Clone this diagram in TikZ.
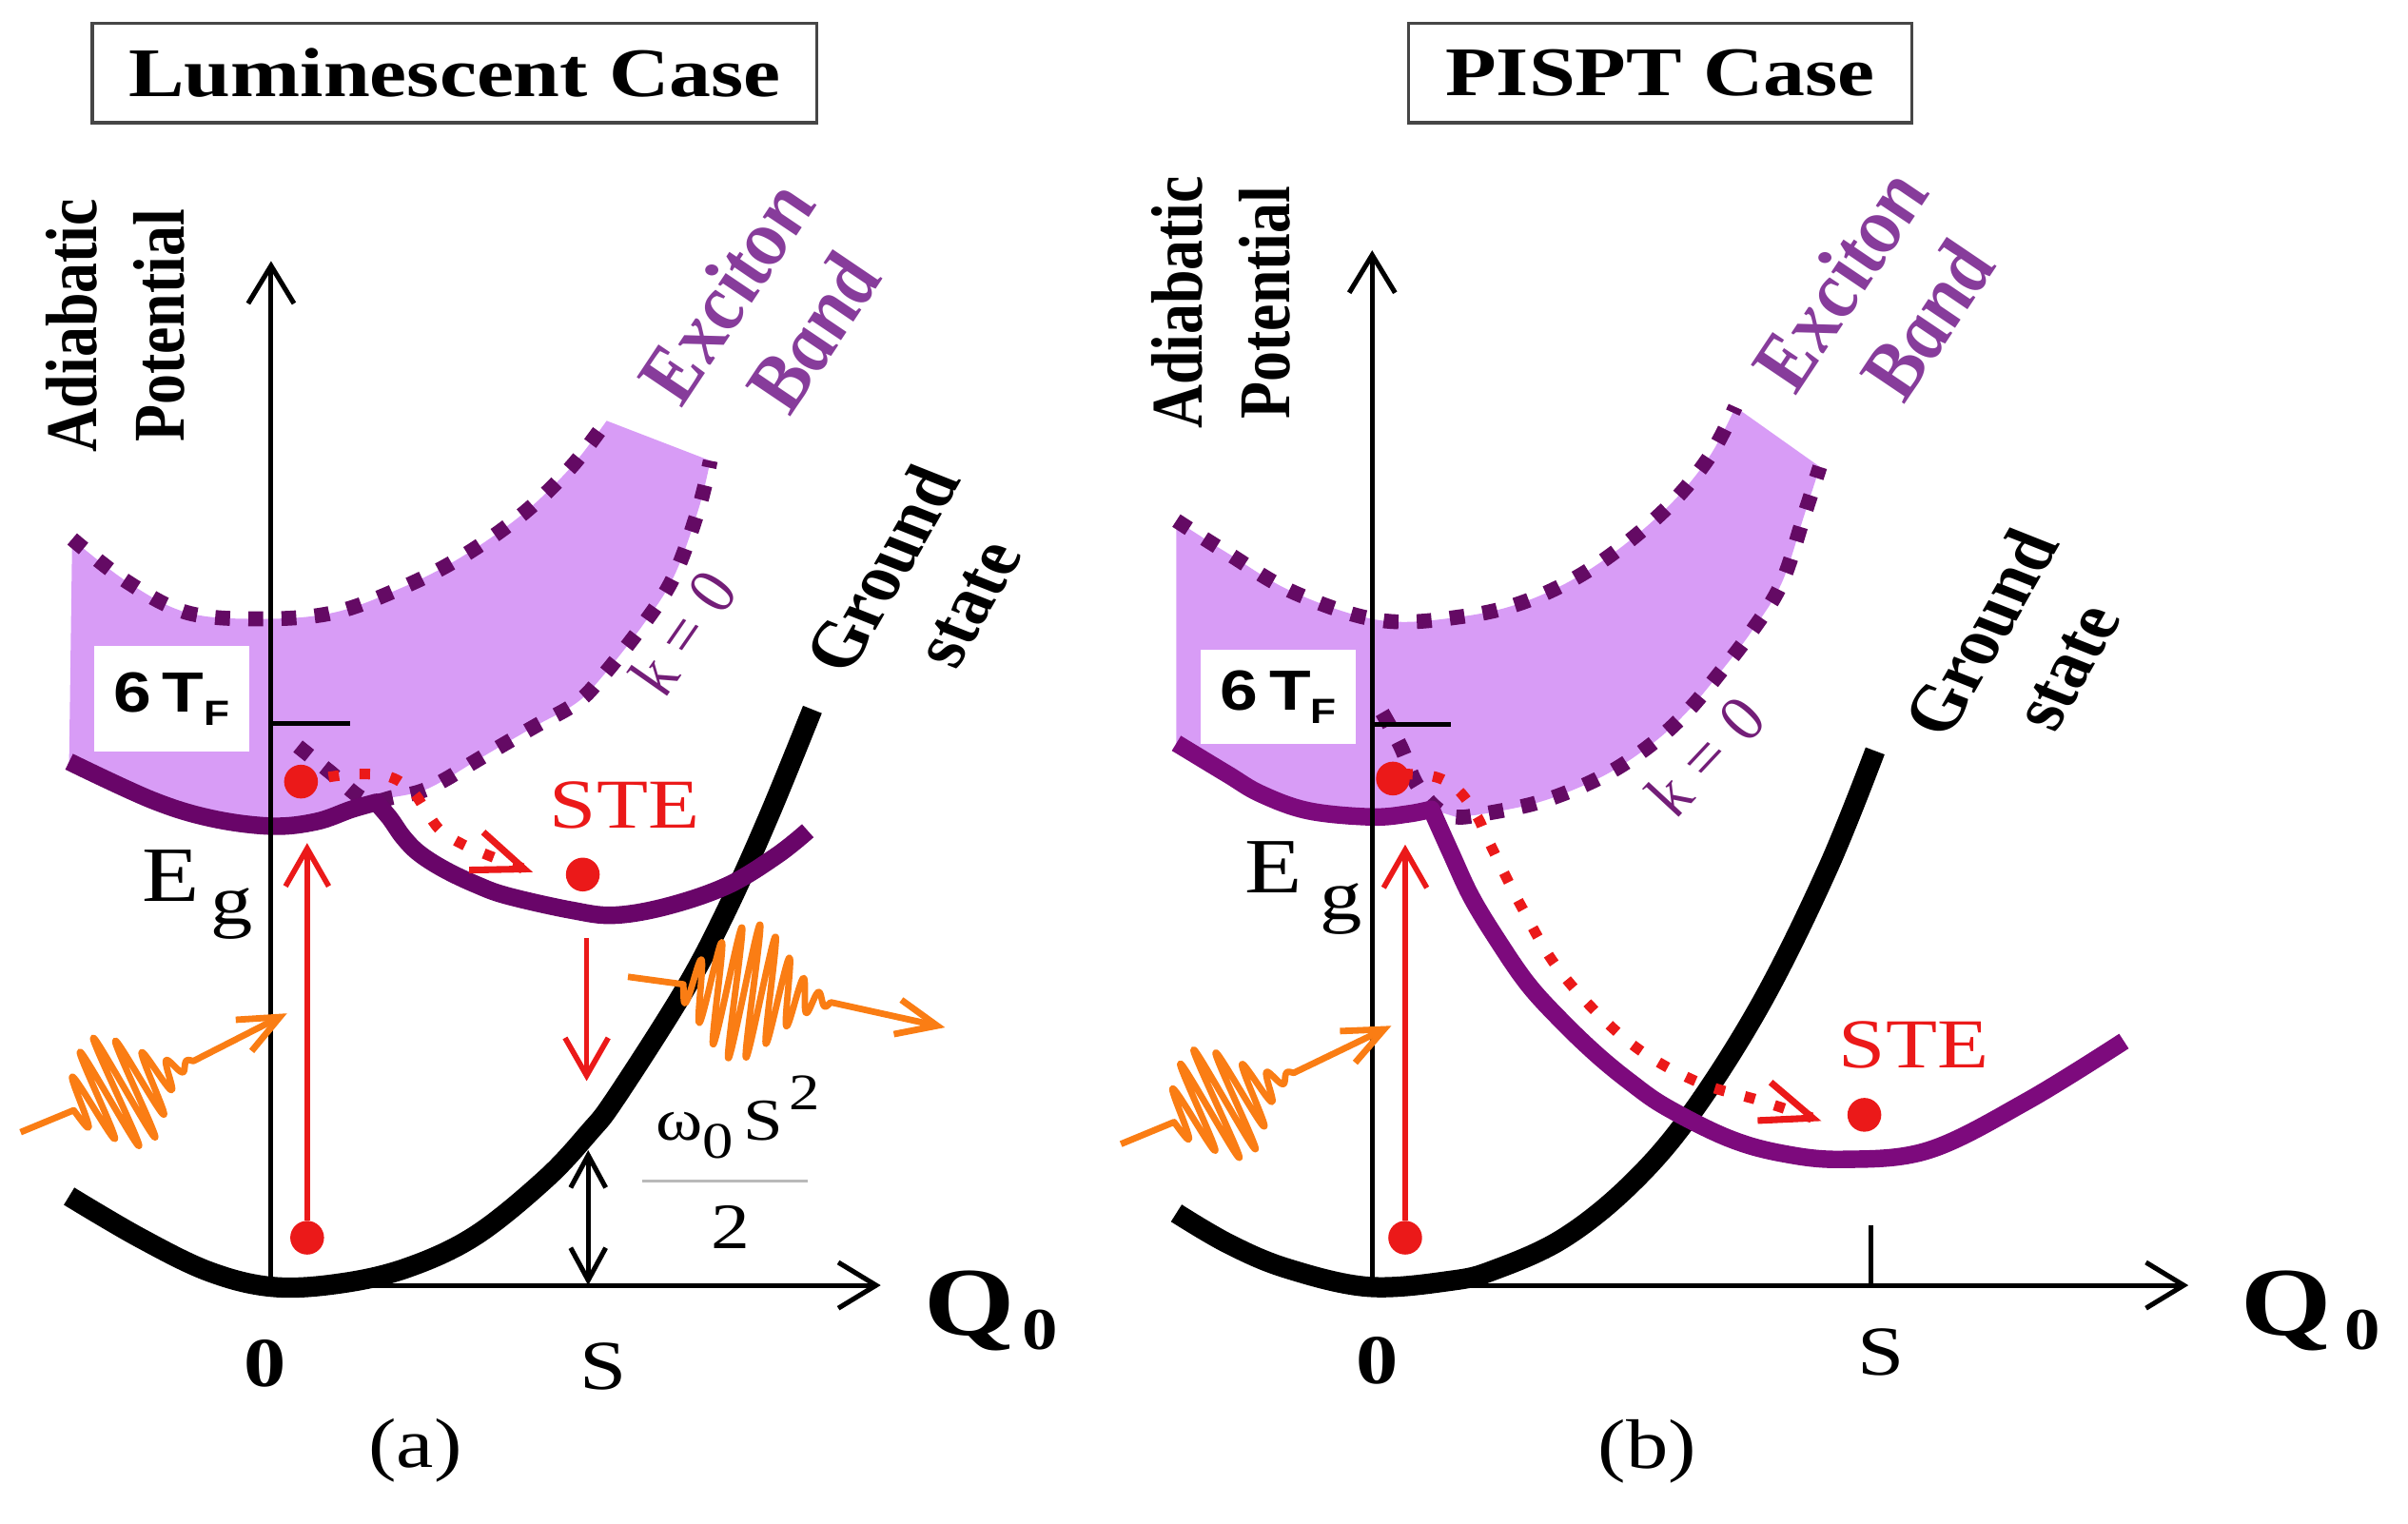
\documentclass[tikz,border=0pt]{standalone}
\usepackage{fontspec}
\setmainfont{Liberation Serif}
\newfontfamily\sfbold{Liberation Sans}
\usetikzlibrary{arrows.meta}
\definecolor{lilac}{RGB}{216,156,246}
\definecolor{purpA}{RGB}{105,5,105}
\definecolor{purpB}{RGB}{125,10,125}
\definecolor{purpdot}{RGB}{100,10,100}
\definecolor{exc}{RGB}{135,60,155}
\definecolor{kcol}{RGB}{115,30,120}
\definecolor{redc}{RGB}{235,25,25}
\definecolor{orng}{RGB}{250,125,20}
\definecolor{boxgray}{RGB}{70,70,70}
\newcommand{\fsz}[2]{\fontsize{#1}{#2}\selectfont}
\begin{document}
\begin{tikzpicture}[x=0.02cm,y=-0.02cm,
  st/.style={xscale=1.2,inner sep=0pt},
  pdots/.style={draw=purpdot,line width=5.5pt,dash pattern=on 5.5pt off 6.8pt},
  psolidA/.style={draw=purpA,line width=6.5pt,line join=round},
  psolidB/.style={draw=purpB,line width=6.5pt,line join=round},
  gnd/.style={draw=black,line width=7.5pt},
  axisline/.style={draw=black,line width=1.8pt,-{Straight Barb[length=14pt,width=17pt]}},
  dblarrow/.style={draw=black,line width=1.8pt,{Straight Barb[length=12pt,width=13pt]}-{Straight Barb[length=12pt,width=13pt]}},
  redarr/.style={draw=redc,line width=2pt,-{Straight Barb[length=14pt,width=16pt]}},
  reddots/.style={draw=redc,line width=3.9pt,dash pattern=on 3.9pt off 7.6pt,-{Straight Barb[length=19pt,width=15pt,line width=2.5pt]}},
  reddot/.style={circle,fill=redc,inner sep=0pt,minimum size=0.44cm},
  photon/.style={draw=orng,line width=2.4pt,line join=round,-{Straight Barb[length=15pt,width=13pt]}},
  tickline/.style={draw=black,line width=1.8pt},
  whitebox/.style={fill=white,st,minimum width=1.68cm},
  titlebox/.style={draw=boxgray,line width=1.2pt,st,minimum height=1.3cm},
]
\useasboundingbox (0,0) rectangle (1568,992);

% ---------------- fills ----------------
\fill[lilac] plot[smooth,tension=0.6] coordinates {(47,351) (83,379) (122,399) (170,403) (217,399) (261,383) (300,363) (340,335) (372,304) (395,274)}
  -- (462.5,300)
  -- plot[smooth,tension=0.6] coordinates {(462.5,300) (455,331) (439,375) (419,406.5) (391,442) (375,458) (350,472) (331,483) (309,496) (291,507) (275,515) (257,519) (240,521)}
  -- plot[smooth,tension=0.6] coordinates {(245,522.5) (229,527) (206,535) (177,538) (138,533) (99,521) (45,496)} -- cycle;
\fill[lilac] plot[smooth,tension=0.6] coordinates {(766,339) (799,360) (843,386) (899,404) (952,401.5) (995,391) (1038,369) (1082,334) (1112,299) (1130,265)}
  -- (1185,304)
  -- plot[smooth,tension=0.6] coordinates {(1185,304) (1175,335) (1160,380) (1140,412) (1120,438) (1100,462) (1080,481) (1055,499) (1030,512) (1000,523) (966,530) (948,532)}
  -- plot[smooth,tension=0.6] coordinates {(932,527) (917,530) (893,532) (852,528) (821,517) (799,504) (766,484)} -- cycle;

% 6 T_F boxes
\node[whitebox,minimum height=1.38cm,font=\sfbold\bfseries\fsz{21}{24}] (tfA) at (111.7,455) {6\,T\raisebox{-5pt}{\fsz{13}{13}F}};
\node[whitebox,minimum height=1.22cm,font=\sfbold\bfseries\fsz{21}{24}] (tfB) at (832.5,453.8) {6\,T\raisebox{-5pt}{\fsz{13}{13}F}};

% ---------------- dotted band edges ----------------
\draw[pdots] plot[smooth,tension=0.6] coordinates {(47,351) (83,379) (122,399) (170,403) (217,399) (261,383) (300,363) (340,335) (372,304) (395,274)};
\draw[pdots] plot[smooth,tension=0.6] coordinates {(194,486) (214,502) (238,521) (257,519) (275,515) (291,507) (309,496) (331,483) (350,472) (375,458) (391,442) (419,406.5) (439,375) (455,331) (462.5,300)};
\draw[pdots] plot[smooth,tension=0.6] coordinates {(766,339) (799,360) (843,386) (899,404) (952,401.5) (995,391) (1038,369) (1082,334) (1112,299) (1130,265)};
\draw[pdots] plot[smooth,tension=0.6] coordinates {(900,464) (912,486) (922,510) (935,526) (948,532) (966,530) (1000,523) (1030,512) (1055,499) (1080,481) (1100,462) (1120,438) (1140,412) (1160,380) (1175,335) (1185,304)};

% ---------------- ground state curves ----------------
\draw[gnd] plot[smooth,tension=0.6] coordinates {(45,779) (91,806) (136,828) (177,838) (220,836) (264,826) (309,805) (355,768) (384,737) (401,715) (445,646) (472,595) (500,533) (529,462)};
\draw[gnd] plot[smooth,tension=0.6] coordinates {(766,790) (800,810) (838,826) (891,838) (945,834) (973,827) (1017,807) (1060,773) (1100,727) (1147,653) (1190,566) (1221,489)};

% ---------------- exciton solid curves ----------------
\draw[psolidA] plot[smooth,tension=0.6] coordinates {(45,496) (99,521) (138,533) (177,538) (206,535) (229,527) (245,522.5)}
  -- plot[smooth,tension=0.6] coordinates {(245,522.5) (254,533) (262.4,545) (272.7,555.5) (289,566) (310,576) (330.5,583.4) (372,592.7) (400,596) (435,590) (474,576.5) (506,557) (526,541)};
\draw[psolidB] plot[smooth,tension=0.6] coordinates {(766,484) (799,504) (821,517) (852,528) (893,532) (917,530) (932,527)}
  -- plot[smooth,tension=0.6] coordinates {(932,527) (945,556) (958,584) (975,612) (995,641) (1017,665) (1040,687) (1062,705) (1085,721) (1125,741) (1160,751) (1200,755) (1256,749) (1320,717) (1383,678)};

% ---------------- axes ----------------
\coordinate (oA) at (176.5,837);
\coordinate (yA) at (176.5,170);
\coordinate (xA) at (573.5,837);
\coordinate (oB) at (893.5,837);
\coordinate (yB) at (893.5,163);
\coordinate (xB) at (1425,837);
\draw[axisline] (oA) -- (yA);
\draw[axisline] (oA) -- (xA);
\draw[axisline] (oB) -- (yB);
\draw[axisline] (oB) -- (xB);

% ticks
\coordinate (tkA1) at (176.5,471); \coordinate (tkA2) at (228,471);
\coordinate (tkB1) at (893.5,472); \coordinate (tkB2) at (945,472);
\draw[tickline] (tkA1) -- (tkA2);
\draw[tickline] (tkB1) -- (tkB2);
\coordinate (sTk1) at (1218,798); \coordinate (sTk2) at (1218,837);
\draw[tickline] (sTk1) -- (sTk2);

% double arrow
\coordinate (dbA1) at (383,749); \coordinate (dbA2) at (383,837);
\draw[dblarrow] (dbA2) -- (dbA1);

% ---------------- red dots and arrows ----------------
\node[reddot] (upA) at (196,509) {};
\node[reddot] (loA) at (200,806) {};
\node[reddot] (steDA) at (379.5,569.5) {};
\node[reddot] (upB) at (907,507) {};
\node[reddot] (loB) at (915,806) {};
\node[reddot] (steDB) at (1214,726) {};
\coordinate (tipA) at (200,549);
\coordinate (tipB) at (915,550);
\draw[redarr] (loA) -- (tipA);
\draw[redarr] (loB) -- (tipB);
\coordinate (rdA1) at (382,611); \coordinate (rdA2) at (382,704);
\draw[redarr] (rdA1) -- (rdA2);
\draw[reddots] plot[smooth,tension=0.6] coordinates {(214,506) (233,504) (254,506) (268.5,515.3) (277.8,528.7) (287,541) (300.5,549.4) (317,556.6) (347,568)};
\draw[reddots] plot[smooth,tension=0.6] coordinates {(913,504) (935,506) (950,515) (962,532) (969,547) (991,591) (1017,634) (1060,678) (1104,704) (1147,717) (1186,730)};

% ---------------- photons ----------------
\coordinate (phAs) at (13.4,737.3);
\coordinate (phAt) at (186.9,659.9);
\draw[photon] (phAs) -- (48,723)
  -- plot[domain=0:1,samples=220,smooth] ({48+78*\x+39*exp(0-((\x-0.38)/0.34)^2)*sin(2520*\x)*0.46},{723-32*\x+39*exp(0-((\x-0.38)/0.34)^2)*sin(2520*\x)*0.89})
  -- (phAt);
\coordinate (phOs) at (408.9,636.1);
\coordinate (phOt) at (615.4,669.1);
\draw[photon] (phOs) -- (445,641)
  -- plot[domain=0:1,samples=240,smooth] ({445+96*\x-45*exp(0-((\x-0.42)/0.34)^2)*sin(3060*\x)*0.168},{641+11.6*\x+45*exp(0-((\x-0.42)/0.34)^2)*sin(3060*\x)*0.986})
  -- (phOt);
\coordinate (phBs) at (729.9,745);
\coordinate (phBt) at (906,668);
\draw[photon] (phBs) -- (764.5,730.7)
  -- plot[domain=0:1,samples=220,smooth] ({764.5+78*\x+39*exp(0-((\x-0.38)/0.34)^2)*sin(2520*\x)*0.46},{730.7-32*\x+39*exp(0-((\x-0.38)/0.34)^2)*sin(2520*\x)*0.89})
  -- (phBt);

% ---------------- texts ----------------
\node[titlebox,minimum width=7.867cm,font=\fsz{25.8}{30}\bfseries] (titleA) at (296,47.5) {Luminescent Case};
\node[titlebox,minimum width=5.467cm,font=\fsz{25.8}{30}\bfseries] (titleB) at (1081,47.5) {PISPT Case};

\node[st,rotate=90,align=center,font=\fsz{22.5}{27}\bfseries] (adA) at (75,212) {Adiabatic\\Potential};
\node[st,rotate=90,align=center,font=\fsz{22.5}{27}\bfseries] (adB) at (795,197) {Adiabatic\\Potential};

\node[st,rotate=61,align=center,text=exc,font=\fsz{27}{31}\bfseries\itshape] (exA) at (500.5,204) {Exciton\\Band};
\node[st,rotate=61,align=center,text=exc,font=\fsz{27}{31}\bfseries\itshape] (exB) at (1225.7,196) {Exciton\\Band};

\node[st,rotate=60,text=kcol,font=\fsz{22}{24}\itshape] (kA) at (444.7,412.5) {k = 0};
\node[st,rotate=52,text=kcol,font=\fsz{22}{24}\itshape] (kB) at (1110.3,492.8) {k = 0};

\node[st,rotate=64.5,align=center,font=\fsz{24}{29}\bfseries] (grA) at (601.5,381.6) {Ground\\state};
\node[st,rotate=64.5,align=center,font=\fsz{24}{29}\bfseries] (grB) at (1317,423) {Ground\\state};

\node[st,text=redc,font=\fsz{26}{30}] (steA) at (406.7,524.2) {STE};
\node[st,text=redc,font=\fsz{26}{30}] (steB) at (1246.2,680.7) {STE};

\node[st,font=\fsz{29}{32}] (EA) at (111,570) {E};
\node[st,font=\fsz{26}{30}] (gA) at (151,595) {g};
\node[st,font=\fsz{29}{32}] (EB) at (829,565) {E};
\node[st,font=\fsz{26}{30}] (gB) at (873,592) {g};

\node[st,font=\fsz{26}{30}\bfseries] (zA) at (172.7,887.7) {0};
\node[st,font=\fsz{26}{30}\bfseries] (zB) at (896.6,886.2) {0};
\node[st,font=\fsz{26}{30}] (sA) at (393,890) {S};
\node[st,font=\fsz{26}{30}] (sB) at (1224.9,880.9) {S};

\node[st,anchor=base,font=\fsz{36}{40}\bfseries] (QA) at (631.6,869.5) {Q};
\node[st,anchor=base,font=\fsz{22}{26}\bfseries] (QsA) at (677,878.6) {0};
\node[st,anchor=base,font=\fsz{36}{40}\bfseries] (QB) at (1489,869.5) {Q};
\node[st,anchor=base,font=\fsz{22}{26}\bfseries] (QsB) at (1538.5,878.6) {0};

\node[st,font=\fsz{26}{30}] (capA) at (270.4,944.5) {(a)};
\node[st,font=\fsz{26}{30}] (capB) at (1072.7,945) {(b)};

% fraction omega0 S^2 / 2
\node[st,font=\fsz{22}{24}] (numA) at (480.5,727.5) {ω\raisebox{-6.7pt}{\fsz{19}{19}0}\hspace{3pt}S\hspace{2pt}\raisebox{11.1pt}{\fsz{19}{19}2}};
\coordinate (frl) at (418,769); \coordinate (frr) at (526,769);
\draw[gray!55,line width=1.2pt] (frl) -- (frr);
\node[st,font=\fsz{24}{26}] (denA) at (476,799) {2};

\end{tikzpicture}
\end{document}
